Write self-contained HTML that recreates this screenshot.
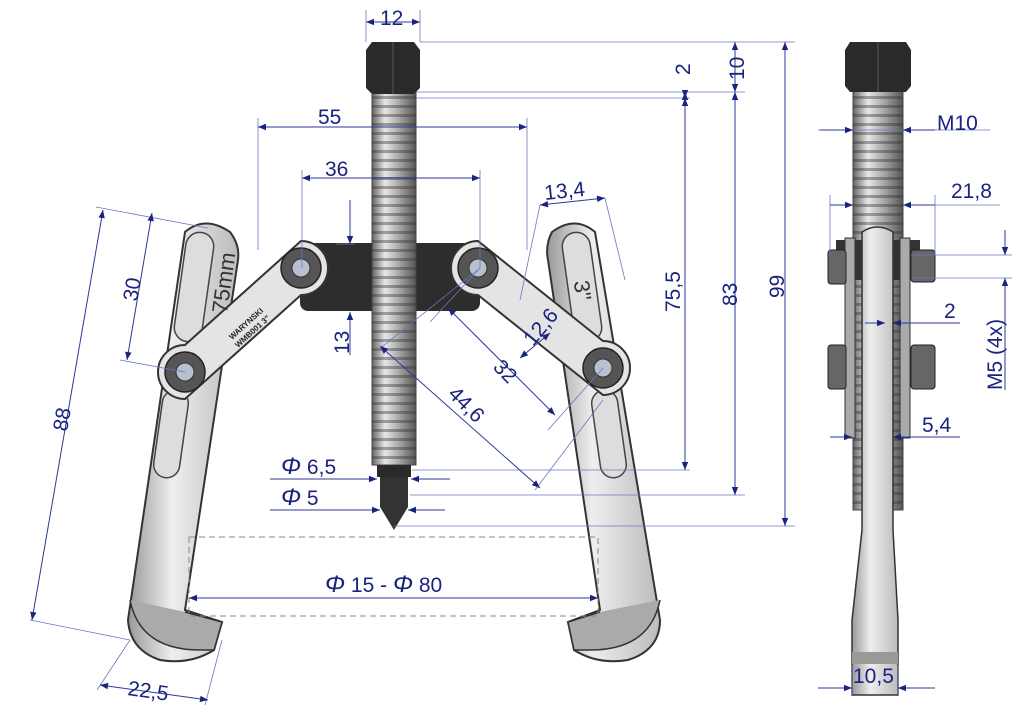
<!DOCTYPE html>
<html><head><meta charset="utf-8"><style>
html,body{margin:0;padding:0;background:#fff;}
svg{display:block;font-family:"Liberation Sans",sans-serif;}
.t{fill:#1a237e;font-size:21px;}
.d{stroke:#2b3a9a;stroke-width:1;fill:none;}
.e{stroke:#6a78c0;stroke-width:0.8;fill:none;}
</style></head><body>
<svg width="1024" height="724" viewBox="0 0 1024 724" xmlns="http://www.w3.org/2000/svg">
<defs>
<marker id="a" viewBox="0 0 10 10" refX="10" refY="5" markerWidth="14" markerHeight="8" orient="auto-start-reverse" markerUnits="userSpaceOnUse"><path d="M0,1 L10,5 L0,9z" fill="#1a237e"/></marker>
<linearGradient id="scr" x1="0" x2="1"><stop offset="0" stop-color="#666"/><stop offset=".3" stop-color="#e8e8e8"/><stop offset=".6" stop-color="#aaa"/><stop offset="1" stop-color="#555"/></linearGradient>
<pattern id="thr" width="200" height="9" patternUnits="userSpaceOnUse"><rect y="6" width="200" height="3" fill="#333" opacity=".4"/></pattern>
<linearGradient id="arm" x1="0" x2="1"><stop offset="0" stop-color="#999"/><stop offset=".4" stop-color="#eee"/><stop offset="1" stop-color="#bbb"/></linearGradient>
</defs>

<!-- left arm -->
<path d="M185,232 Q205,215 230,232 Q240,245 238,260 L185,610 L222,622 L214,650 Q190,665 160,660 Q130,650 128,620 Z" fill="url(#arm)" stroke="#333" stroke-width="2"/>
<rect x="180" y="232" width="28" height="110" rx="14" fill="#ddd" stroke="#444" stroke-width="1.5" transform="rotate(8 194 287)"/>
<rect x="158" y="390" width="26" height="88" rx="13" fill="#ddd" stroke="#444" stroke-width="1.5" transform="rotate(8 171 434)"/>
<path d="M130,600 Q140,650 200,650 L214,650 L222,622 L185,612" fill="#aaa" stroke="#333" stroke-width="1.5"/>
<!-- right arm -->
<path d="M595,232 Q575,215 552,232 Q545,245 548,260 L600,610 L568,622 L574,650 Q598,665 628,660 Q660,650 660,620 Z" fill="url(#arm)" stroke="#333" stroke-width="2"/>
<rect x="568" y="232" width="28" height="110" rx="14" fill="#ddd" stroke="#444" stroke-width="1.5" transform="rotate(-8 582 287)"/>
<rect x="596" y="390" width="26" height="88" rx="13" fill="#ddd" stroke="#444" stroke-width="1.5" transform="rotate(-8 609 434)"/>
<path d="M660,600 Q650,650 590,650 L574,650 L568,622 L600,612" fill="#aaa" stroke="#333" stroke-width="1.5"/>

<!-- crossbar -->
<rect x="300" y="243" width="180" height="68" rx="8" fill="#2d2d2d"/>
<!-- links -->
<path d="M301,241 L185,345 A27,27 0 0 0 185,399 L301,295 A27,27 0 0 0 301,241z" fill="#e4e4e4" stroke="#333" stroke-width="2"/>
<path d="M478,241 L603,341 A27,27 0 0 1 603,395 L478,295 A27,27 0 0 1 478,241z" fill="#e4e4e4" stroke="#333" stroke-width="2"/>
<text x="232" y="340" font-size="8" font-weight="bold" fill="#222" transform="rotate(-42 232 340)">WARYNSKI</text>
<text x="238" y="348" font-size="8" font-weight="bold" fill="#222" transform="rotate(-42 238 348)">WMB001 3"</text>
<text x="180" y="320" font-size="22" fill="#333" transform="rotate(-82 200 290)">75mm</text>
<text x="575" y="300" font-size="22" fill="#333" transform="rotate(82 585 290)">3"</text>
<!-- nuts -->
<g fill="#555" stroke="#222" stroke-width="1.5">
<circle cx="301" cy="268" r="20"/><circle cx="478" cy="268" r="20"/><circle cx="185" cy="372" r="20"/><circle cx="603" cy="368" r="20"/></g>
<g fill="#b8c0d0" stroke="#333"><circle cx="301" cy="268" r="9"/><circle cx="478" cy="268" r="9"/><circle cx="185" cy="372" r="9"/><circle cx="603" cy="368" r="9"/></g>

<!-- screw -->
<rect x="372" y="92" width="44" height="373" fill="url(#scr)" stroke="#444" stroke-width="1"/>
<rect x="372" y="92" width="44" height="373" fill="url(#thr)"/>
<path d="M366,50 L372,42 L414,42 L420,50 L420,88 L414,94 L372,94 L366,88z" fill="#2a2a2a"/>
<line x1="393" y1="42" x2="393" y2="94" stroke="#555"/>
<rect x="377" y="465" width="34" height="12" fill="#2a2a2a"/>
<rect x="380" y="477" width="28" height="30" fill="#333"/>
<path d="M380,507 L408,507 L394,530z" fill="#333"/>

<!-- dashed rect -->
<rect x="189" y="537" width="409" height="79" fill="none" stroke="#888" stroke-dasharray="6,4"/>

<!-- side view -->
<rect x="853" y="90" width="50" height="420" fill="url(#scr)" stroke="#444"/>
<rect x="853" y="90" width="50" height="420" fill="url(#thr)"/>
<path d="M845,50 L850,42 L906,42 L911,50 L911,86 L906,92 L850,92 L845,86z" fill="#2a2a2a"/>
<line x1="878" y1="42" x2="878" y2="92" stroke="#555"/>
<rect x="836" y="240" width="84" height="40" fill="#333"/>
<rect x="845" y="238" width="10" height="200" fill="#aaa" stroke="#333"/>
<rect x="900" y="238" width="10" height="200" fill="#aaa" stroke="#333"/>
<g fill="#666" stroke="#222"><rect x="828" y="250" width="18" height="34" rx="3"/><rect x="911" y="250" width="24" height="32" rx="3"/><rect x="828" y="345" width="18" height="44" rx="3"/><rect x="911" y="345" width="24" height="44" rx="3"/></g>
<path d="M862,232 Q877,222 893,232 L893,530 L898,620 L898,695 L852,695 L852,620 L862,530z" fill="url(#arm)" stroke="#333" stroke-width="1.5"/>
<rect x="852" y="652" width="46" height="12" fill="#999"/>

<!-- dimension lines main -->
<g class="e">
<line x1="366" y1="10" x2="366" y2="42"/><line x1="420" y1="10" x2="420" y2="42"/>
<line x1="420" y1="42" x2="795" y2="42"/><line x1="416" y1="92" x2="745" y2="92"/><line x1="416" y1="98" x2="690" y2="98"/>
<line x1="258" y1="118" x2="258" y2="250"/><line x1="527" y1="118" x2="527" y2="250"/>
<line x1="302" y1="170" x2="302" y2="268"/><line x1="480" y1="170" x2="480" y2="268"/>
<line x1="412" y1="470" x2="690" y2="470"/><line x1="410" y1="495" x2="745" y2="495"/><line x1="394" y1="526" x2="795" y2="526"/>
<line x1="96" y1="207" x2="208" y2="228"/><line x1="120" y1="360" x2="185" y2="372"/>
<line x1="30" y1="620" x2="130" y2="640"/>
<line x1="97" y1="690" x2="130" y2="640"/><line x1="205" y1="705" x2="222" y2="640"/>
<line x1="540" y1="205" x2="520" y2="300"/><line x1="605" y1="198" x2="625" y2="280"/>
<line x1="430" y1="322" x2="480" y2="268"/><line x1="548" y1="430" x2="603" y2="368"/>
<line x1="378" y1="350" x2="480" y2="268"/><line x1="535" y1="490" x2="603" y2="400"/>
<line x1="336" y1="244" x2="355" y2="244"/>
</g>
<g class="d" marker-start="url(#a)" marker-end="url(#a)">
<line x1="366" y1="22" x2="420" y2="22"/>
<line x1="735" y1="42" x2="735" y2="92"/>
<line x1="685" y1="92" x2="685" y2="98"/>
<line x1="258" y1="127" x2="527" y2="127"/>
<line x1="302" y1="178" x2="480" y2="178"/>
<line x1="685" y1="98" x2="685" y2="470"/>
<line x1="735" y1="92" x2="735" y2="495"/>
<line x1="785" y1="42" x2="785" y2="526"/>
<line x1="103" y1="210" x2="32" y2="620"/>
<line x1="152" y1="213" x2="127" y2="360"/>
<line x1="100" y1="685" x2="208" y2="700"/>
<line x1="540" y1="205" x2="605" y2="198"/>
<line x1="448" y1="308" x2="555" y2="415"/>
<line x1="380" y1="346" x2="540" y2="488"/>
<line x1="189" y1="598" x2="598" y2="598"/>
<line x1="550" y1="333" x2="520" y2="358"/>
</g>
<g class="d">
<line x1="350" y1="200" x2="350" y2="244" marker-end="url(#a)"/>
<line x1="350" y1="355" x2="350" y2="312" marker-end="url(#a)"/>
<line x1="270" y1="479" x2="377" y2="479" marker-end="url(#a)"/><line x1="450" y1="479" x2="411" y2="479" marker-end="url(#a)"/>
<line x1="270" y1="510" x2="380" y2="510" marker-end="url(#a)"/><line x1="445" y1="510" x2="408" y2="510" marker-end="url(#a)"/>
</g>
<g class="t">
<text x="380" y="25">12</text>
<text x="318" y="124">55</text>
<text x="325" y="176">36</text>
<text x="0" y="0" transform="translate(744,80) rotate(-90)">10</text>
<text x="0" y="0" transform="translate(690,75) rotate(-90)">2</text>
<text x="0" y="0" transform="translate(680,312) rotate(-90)">75,5</text>
<text x="0" y="0" transform="translate(737,306) rotate(-90)">83</text>
<text x="0" y="0" transform="translate(784,298) rotate(-90)">99</text>
<text x="0" y="0" transform="translate(137,302) rotate(-80)">30</text>
<text x="0" y="0" transform="translate(67,432) rotate(-80)">88</text>
<text x="0" y="0" transform="translate(349,354) rotate(-90)">13</text>
<text x="0" y="0" transform="translate(545,200) rotate(-6)">13,4</text>
<text x="0" y="0" transform="translate(533,347) rotate(-50)">12,6</text>
<text x="0" y="0" transform="translate(492,368) rotate(45)">32</text>
<text x="0" y="0" transform="translate(447,395) rotate(45)">44,6</text>
<text x="0" y="0" transform="translate(127,695) rotate(8)">22,5</text>
<text x="281" y="474"><tspan font-style="italic" font-size="24">Φ</tspan> 6,5</text>
<text x="281" y="505"><tspan font-style="italic" font-size="24">Φ</tspan> 5</text>
<text x="325" y="592"><tspan font-style="italic" font-size="24">Φ</tspan> 15 - <tspan font-style="italic" font-size="24">Φ</tspan>  80</text>
</g>

<!-- side dims -->
<g class="e">
<line x1="830" y1="195" x2="830" y2="255"/><line x1="935" y1="195" x2="935" y2="255"/>
<line x1="935" y1="205" x2="1000" y2="205"/>
<line x1="911" y1="255" x2="1012" y2="255"/><line x1="911" y1="278" x2="1012" y2="278"/>
<line x1="852" y1="665" x2="852" y2="695"/><line x1="898" y1="665" x2="898" y2="695"/>
<line x1="818" y1="130" x2="990" y2="130"/>
</g>
<g class="d">
<line x1="820" y1="130" x2="853" y2="130" marker-end="url(#a)"/><line x1="935" y1="130" x2="903" y2="130" marker-end="url(#a)"/>
<line x1="830" y1="205" x2="853" y2="205" marker-end="url(#a)"/><line x1="903" y1="205" x2="935" y2="205" marker-start="url(#a)"/>
<line x1="1005" y1="230" x2="1005" y2="255" marker-end="url(#a)"/><line x1="1005" y1="300" x2="1005" y2="278" marker-end="url(#a)"/>
<line x1="1005" y1="300" x2="1005" y2="390"/>
<line x1="865" y1="323" x2="885" y2="323" marker-end="url(#a)"/><line x1="960" y1="323" x2="893" y2="323" marker-end="url(#a)"/>
<line x1="830" y1="437" x2="852" y2="437" marker-end="url(#a)"/><line x1="960" y1="437" x2="893" y2="437" marker-end="url(#a)"/>
<line x1="818" y1="688" x2="852" y2="688" marker-end="url(#a)"/><line x1="935" y1="688" x2="898" y2="688" marker-end="url(#a)"/>
</g>
<g class="t">
<text x="937" y="130">M10</text>
<text x="951" y="198">21,8</text>
<text x="944" y="318">2</text>
<text x="922" y="432">5,4</text>
<text x="853" y="683">10,5</text>
<text x="0" y="0" transform="translate(1002,390) rotate(-90)">M5 (4x)</text>
</g>
</svg>
</body></html>
